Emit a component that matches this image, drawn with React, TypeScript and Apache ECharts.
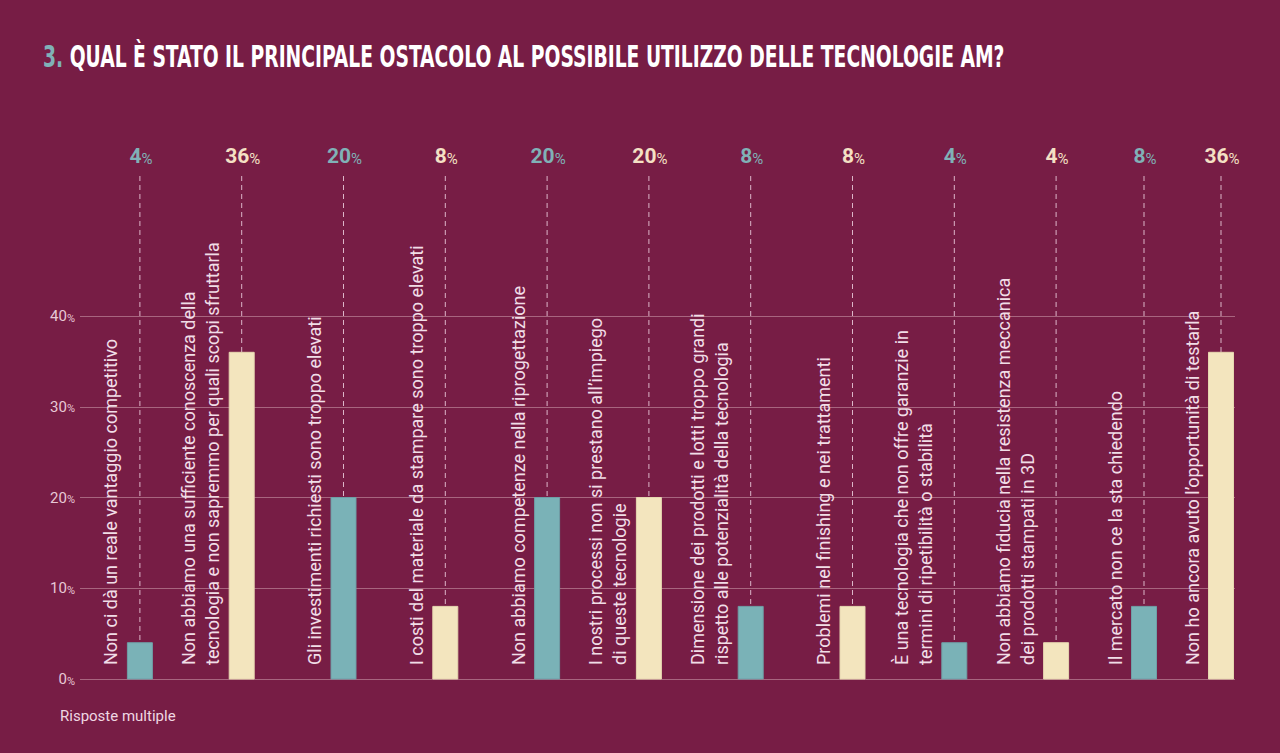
import React, { useEffect, useRef } from 'react';
import * as echarts from 'echarts';

const TITLE_NUMBER = '3.';
const TITLE_TEXT = 'QUAL È STATO IL PRINCIPALE OSTACOLO AL POSSIBILE UTILIZZO DELLE TECNOLOGIE AM?';
const NOTE = 'Risposte multiple';

const CATEGORIES = [
  'Non ci dà un reale vantaggio competitivo',
  'Non abbiamo una sufficiente conoscenza della\ntecnologia e non sapremmo per quali scopi sfruttarla',
  'Gli investimenti richiesti sono troppo elevati',
  'I costi del materiale da stampare sono troppo elevati',
  'Non abbiamo competenze nella riprogettazione',
  'I nostri processi non si prestano all’impiego\ndi queste tecnologie',
  'Dimensione dei prodotti e lotti troppo grandi\nrispetto alle potenzialità della tecnologia',
  'Problemi nel finishing e nei trattamenti',
  'È una tecnologia che non offre garanzie in\ntermini di ripetibilità o stabilità',
  'Non abbiamo fiducia nella resistenza meccanica\ndei prodotti stampati in 3D',
  'Il mercato non ce la sta chiedendo',
  'Non ho ancora avuto l’opportunità di testarla',
];
const VALUES = [4, 36, 20, 8, 20, 20, 8, 8, 4, 4, 8, 36];

const Y_MIN = 0;
const Y_MAX = 40;
const Y_INTERVAL = 10;
const FIRST_GROUP = 10; // categories drawn in the first (wider) band

const BG = '#771d45';
const TEAL = '#7ab2b7';
const CREAM = '#f3e5be';
const TEAL_TXT = '#80b1b7';
const CREAM_TXT = '#f4e0c4';
const DASH = '#dcb6c8';
const GRID = '#a8657f';
const LABEL = '#f1dde7';
const AXIS_TXT = '#e8c8d6';

const makeRender = (offset: number) => (params: any, api: any) => {
  const i = api.value(0) as number;
  const v = api.value(1) as number;
  const g = offset + i;
  const base = api.coord([i, 0]);
  const top = api.coord([i, v]);
  const ref = api.coord([i, Y_MAX]);
  const x = base[0];
  const teal = g % 2 === 0;
  const txt = teal ? TEAL_TXT : CREAM_TXT;
  return {
    type: 'group',
    children: [
      {
        type: 'line',
        shape: { x1: x, y1: ref[1] - 140, x2: x, y2: top[1] },
        style: { stroke: DASH, lineWidth: 1, lineDash: [5, 4] },
      },
      {
        type: 'rect',
        shape: { x: x - 12.5, y: top[1], width: 25, height: base[1] - top[1] },
        style: { fill: teal ? TEAL : CREAM, stroke: teal ? '#6f9ea6' : '#e6d6b0', lineWidth: 1 },
      },
      {
        type: 'text',
        x: x + 1,
        y: ref[1] - 160,
        style: {
          text: `{n|${v}}{p|%}`,
          align: 'center',
          verticalAlign: 'middle',
          rich: {
            n: {
              fontSize: 21,
              lineHeight: 21,
              fontWeight: 'bold',
              fontFamily: 'Roboto',
              fill: txt,
              verticalAlign: 'bottom',
            },
            p: {
              fontSize: 15,
              lineHeight: 16,
              fontFamily: 'Roboto',
              fill: txt,
              verticalAlign: 'bottom',
            },
          },
        },
      },
      {
        type: 'text',
        x: x - 17,
        y: base[1] - 14,
        rotation: Math.PI / 2,
        style: {
          text: CATEGORIES[g],
          fontSize: 18,
          lineHeight: 24,
          fontFamily: 'Roboto',
          fill: LABEL,
          align: 'left',
          verticalAlign: 'bottom',
        },
      },
    ],
  };
};

export default function App() {
  const ref = useRef<HTMLDivElement>(null);

  useEffect(() => {
    if (!ref.current) return;
    const chart = echarts.init(ref.current, null, { renderer: 'svg' });

    const titleFont = '"DejaVu Sans Condensed", "Liberation Sans Narrow", "DejaVu Sans", sans-serif';
    let scaleX = 0.8;
    try {
      const ctx = document.createElement('canvas').getContext('2d');
      if (ctx) {
        ctx.font = `bold 30px ${titleFont}`;
        const w = ctx.measureText(`${TITLE_NUMBER} ${TITLE_TEXT}`).width;
        if (w > 0) scaleX = 962 / w;
      }
    } catch (e) {}

    const firstCats = CATEGORIES.slice(0, FIRST_GROUP);
    const secondCats = CATEGORIES.slice(FIRST_GROUP);

    chart.setOption({
      animation: false,
      backgroundColor: BG,
      grid: [
        { left: 80, right: 45, top: 316, bottom: 74 },
        { left: 89, right: 173, top: 316, bottom: 74 },
        { left: 1105.5, right: 20.5, top: 316, bottom: 74 },
      ],
      xAxis: [
        { type: 'value', gridIndex: 0, min: 0, max: 1, show: false },
        { type: 'category', gridIndex: 1, data: firstCats, show: false },
        { type: 'category', gridIndex: 2, data: secondCats, show: false },
      ],
      yAxis: [
        {
          type: 'value',
          gridIndex: 0,
          min: Y_MIN,
          max: Y_MAX,
          interval: Y_INTERVAL,
          axisLine: { show: false },
          axisTick: { show: false },
          splitLine: { show: true, lineStyle: { color: GRID, width: 1 } },
          axisLabel: {
            margin: 5,
            formatter: (v: number) => `{n|${v}}{p|%}`,
            rich: {
              n: { fontSize: 15, fontFamily: 'Roboto', color: AXIS_TXT, verticalAlign: 'bottom', lineHeight: 15 },
              p: { fontSize: 11, fontFamily: 'Roboto', color: AXIS_TXT, verticalAlign: 'bottom', lineHeight: 12 },
            },
          },
        },
        { type: 'value', gridIndex: 1, min: Y_MIN, max: Y_MAX, show: false, splitLine: { show: false } },
        { type: 'value', gridIndex: 2, min: Y_MIN, max: Y_MAX, show: false, splitLine: { show: false } },
      ],
      series: [
        {
          type: 'custom',
          xAxisIndex: 1,
          yAxisIndex: 1,
          clip: false,
          renderItem: makeRender(0),
          data: VALUES.slice(0, FIRST_GROUP).map((v, i) => [i, v]),
        },
        {
          type: 'custom',
          xAxisIndex: 2,
          yAxisIndex: 2,
          clip: false,
          renderItem: makeRender(FIRST_GROUP),
          data: VALUES.slice(FIRST_GROUP).map((v, i) => [i, v]),
        },
      ],
      graphic: [
        {
          type: 'text',
          x: 43,
          y: 57,
          scaleX,
          style: {
            text: `{a|${TITLE_NUMBER}} {b|${TITLE_TEXT}}`,
            align: 'left',
            verticalAlign: 'middle',
            rich: {
              a: { fontSize: 30, fontWeight: 'bold', fontFamily: titleFont, fill: TEAL_TXT },
              b: { fontSize: 30, fontWeight: 'bold', fontFamily: titleFont, fill: '#ffffff' },
            },
            fontSize: 30,
            fontWeight: 'bold',
            fontFamily: titleFont,
            fill: '#ffffff',
          },
        },
        {
          type: 'text',
          x: 60,
          y: 716,
          style: {
            text: NOTE,
            fontSize: 15,
            fontFamily: 'Roboto',
            fill: '#efd7e2',
            align: 'left',
            verticalAlign: 'middle',
          },
        },
      ],
    });

    return () => chart.dispose();
  }, []);

  return (
    <div
      ref={ref}
      style={{ position: 'fixed', left: 0, top: 0, width: 1280, height: 753 }}
    />
  );
}
